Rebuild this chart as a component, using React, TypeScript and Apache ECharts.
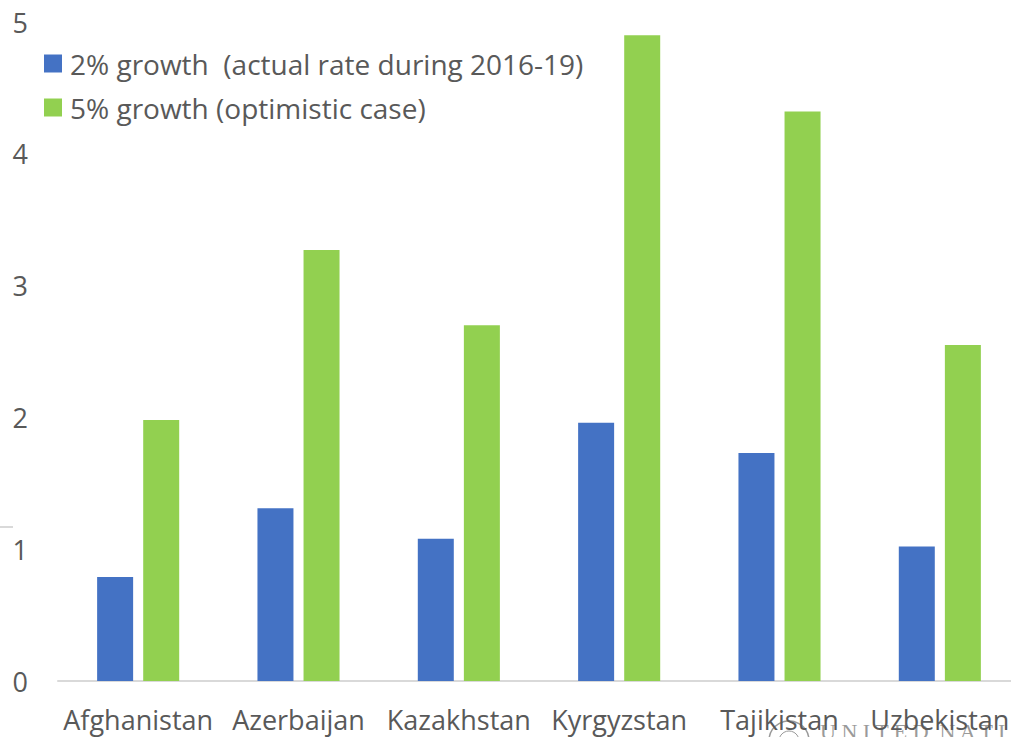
import React, { useEffect, useRef } from "react";
import * as echarts from "echarts";

const categories = ["Afghanistan", "Azerbaijan", "Kazakhstan", "Kyrgyzstan", "Tajikistan", "Uzbekistan"];
const growth2 = [0.79, 1.31, 1.08, 1.96, 1.73, 1.02];
const growth5 = [1.98, 3.27, 2.7, 4.9, 4.32, 2.55];
const seriesNames = ["2% growth \u00a0(actual rate during 2016-19)", "5% growth (optimistic case)"];

const FONT = "Open Sans";
const TEXT = "#595959";

export default function App() {
  const ref = useRef<HTMLDivElement>(null);
  useEffect(() => {
    const chart = echarts.init(ref.current!, null, { renderer: "svg" });
    chart.setOption({
      animation: false,
      backgroundColor: "#ffffff",
      textStyle: { fontFamily: FONT },
      grid: { left: 58, top: 22, width: 962, bottom: 56, containLabel: false },
      legend: {
        orient: "vertical",
        left: 44,
        top: 48,
        padding: 0,
        itemWidth: 18,
        itemHeight: 18,
        itemGap: 13,
        icon: "rect",
        textStyle: { color: TEXT, fontSize: 28, fontFamily: FONT, lineHeight: 31, padding: [0, 0, 0, 3] },
        data: seriesNames,
      },
      xAxis: {
        type: "category",
        data: categories,
        axisLine: { show: true, lineStyle: { color: "#d9d9d9", width: 2 } },
        axisTick: { show: false },
        axisLabel: { color: TEXT, fontSize: 27, fontFamily: FONT, margin: 25, interval: 0 },
      },
      yAxis: {
        type: "value",
        min: 0,
        max: 5,
        interval: 1,
        splitLine: { show: false },
        axisLine: { show: false },
        axisTick: { show: false },
        axisLabel: { color: TEXT, fontSize: 27, fontFamily: FONT, margin: 30 },
      },
      series: [
        {
          name: seriesNames[0],
          type: "bar",
          data: growth2,
          barWidth: 36,
          barGap: "28%",
          itemStyle: { color: "#4472C4" },
        },
        {
          name: seriesNames[1],
          type: "bar",
          data: growth5,
          barWidth: 36,
          barGap: "28%",
          itemStyle: { color: "#92D050" },
        },
      ],
      graphic: [
        { type: "line", shape: { x1: 0, y1: 527, x2: 13, y2: 527 }, style: { stroke: "#d9d9d9", lineWidth: 2 } },
        { type: "circle", z: -1, shape: { cx: 789, cy: 741, r: 20 }, style: { fill: "none", stroke: "#9a9a9a", lineWidth: 1.5 } },
        { type: "circle", z: -1, shape: { cx: 789, cy: 741, r: 10 }, style: { fill: "none", stroke: "#9a9a9a", lineWidth: 1 } },
        {
          type: "text",
          z: -1,
          x: 820,
          y: 720,
          style: { text: "U N I T E D  N A T I O N S", font: "22px 'Liberation Serif'", fill: "#9a9a9a" },
        },
      ],
    });
    return () => chart.dispose();
  }, []);
  return (
    <div style={{ position: "absolute", left: 0, top: 0, width: 1011, height: 737, overflow: "hidden" }}>
      <div ref={ref} style={{ width: 1030, height: 737 }} />
    </div>
  );
}
